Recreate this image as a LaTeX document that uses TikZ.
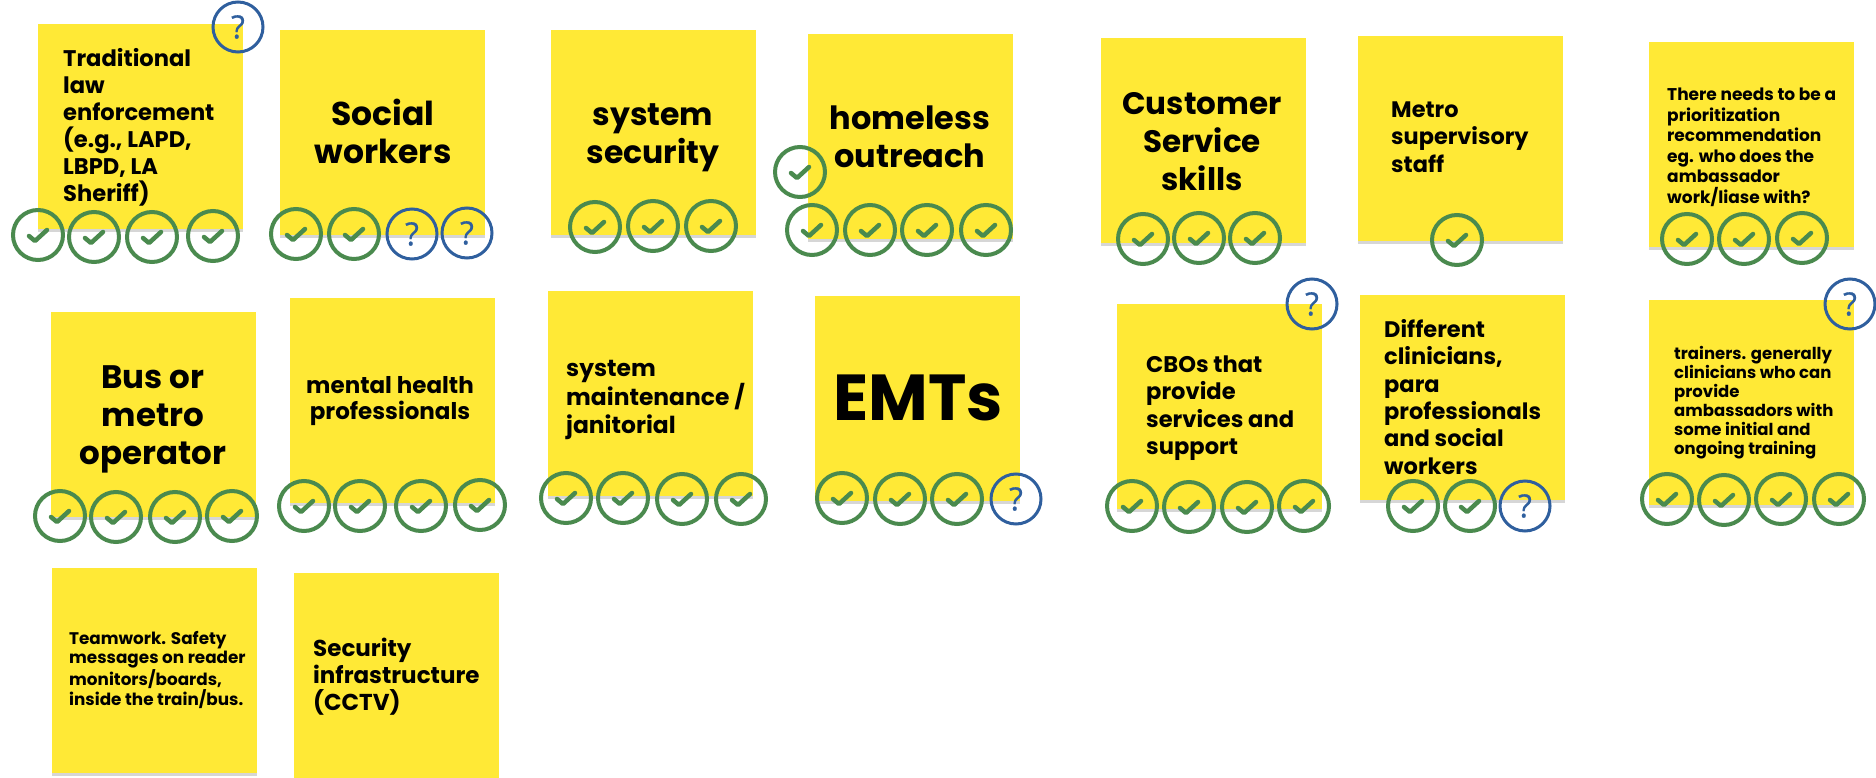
\documentclass[tikz,border=0pt]{standalone}
\usepackage{fontspec}
\setmainfont{Poppins}
\newfontfamily\qfont{Open Sans}[FakeBold=0.5]
\usetikzlibrary{shadows}
\definecolor{stickyy}{HTML}{FFE936}
\definecolor{okgreen}{HTML}{4A8A4E}
\definecolor{askblue}{HTML}{2F5F9E}
\tikzset{
  x=1pt,y=-1pt,
  sticky/.style={fill=stickyy,draw=none,minimum size=205pt,inner sep=0pt,anchor=north west,
    drop shadow={shadow xshift=0pt,shadow yshift=-3pt,opacity=.16,fill=black}},
  stxt/.style={inner sep=0pt,text=black},
  sz/.style 2 args={font=\bfseries\fontsize{#1}{#2}\selectfont},
  okmark/.style={circle,draw=okgreen,line width=4pt,minimum size=50pt,inner sep=0pt,
    path picture={\draw[okgreen,line width=4.5pt,line cap=round,line join=round]
      ([shift={(-9,1)}]path picture bounding box.center)
      -- ([shift={(-3,6)}]path picture bounding box.center)
      -- ([shift={(9,-5)}]path picture bounding box.center);}},
  askmark/.style={circle,draw=askblue,line width=3pt,minimum size=50pt,inner sep=0pt,text=askblue,
    font=\qfont\fontsize{32}{32}\selectfont}
}
\newcommand{\ok}[3]{\node[okmark] (#1) at (#2,#3) {};}
\newcommand{\ask}[3]{\node[askmark] (#1) at (#2,#3) {?};}
\begin{document}
\begin{tikzpicture}
\useasboundingbox (0,0) rectangle (1876,778);
% stickies
\node[sticky] (s1) at (38,24) {};
\node[sticky] (s2) at (280,30) {};
\node[sticky] (s3) at (551,30) {};
\node[sticky] (s4) at (808,34) {};
\node[sticky] (s5) at (1101,38) {};
\node[sticky] (s6) at (1358,36) {};
\node[sticky] (s7) at (1649,42) {};
\node[sticky] (s8) at (51,312) {};
\node[sticky] (s9) at (290,298) {};
\node[sticky] (s10) at (548,291) {};
\node[sticky] (s11) at (815,296) {};
\node[sticky] (s12) at (1117,304) {};
\node[sticky] (s13) at (1360,295) {};
\node[sticky] (s14) at (1649,300) {};
\node[sticky] (s15) at (52,568) {};
\node[sticky] (s16) at (294,573) {};
% texts
\node[stxt,sz={22.6}{27},anchor=west,align=left] (t1) at (63,127) {Traditional\\law\\enforcement\\(e.g., LAPD,\\LBPD, LA\\Sheriff)};
\node[stxt,sz={33}{38},align=center] (t2) at (383,131) {Social\\workers};
\node[stxt,sz={31.5}{38},align=center] (t3) at (653,138) {system\\security};
\node[stxt,sz={32}{38},align=center] (t4) at (910,136.5) {homeless\\outreach};
\node[stxt,sz={31}{38},align=center] (t5) at (1202,142) {Customer\\Service\\skills};
\node[stxt,sz={22.4}{27.5},anchor=west,align=left] (t6) at (1391,137) {Metro\\supervisory\\staff};
\node[stxt,sz={17}{20.5},anchor=west,align=left] (t7) at (1667,147.5) {There needs to be a\\prioritization\\recommendation\\eg. who does the\\ambassador\\work/liase with?};
\node[stxt,sz={32.5}{38},align=center] (t8) at (153,419) {Bus or\\metro\\operator};
\node[stxt,sz={23}{26},align=center] (t9) at (390,401) {mental health\\professionals};
\node[stxt,sz={23.4}{28},anchor=west,align=left] (t10) at (566,400) {system\\maintenance /\\janitorial};
\node[stxt,sz={65}{65}] (t11) at (918,398) {EMTs};
\node[stxt,sz={22.6}{27.5},anchor=west,align=left] (t12) at (1146,408) {CBOs that\\provide\\services and\\support};
\node[stxt,sz={22.5}{27.3},anchor=west,align=left] (t13) at (1384,397) {Different\\clinicians,\\para\\professionals\\and social\\workers};
\node[stxt,sz={16.5}{19},anchor=west,align=left] (t14) at (1674,402.5) {trainers. generally\\clinicians who can\\provide\\ambassadors with\\some initial and\\ongoing training};
\node[stxt,sz={16.8}{19},anchor=west,align=left] (t15) at (69,670) {Teamwork. Safety\\messages on reader\\monitors/boards,\\inside the train/bus.};
\node[stxt,sz={23}{27},anchor=west,align=left] (t16) at (313,677) {Security\\infrastructure\\(CCTV)};
% marks
\ok{a1}{38}{235}\ok{a2}{94}{237}\ok{a3}{152}{237}\ok{a4}{213}{236}\ask{a5}{238}{27}
\ok{b1}{296}{234}\ok{b2}{354}{234}\ask{b3}{412}{234}\ask{b4}{467}{233}
\ok{c1}{595}{227}\ok{c2}{653}{226}\ok{c3}{711}{226}
\ok{d0}{800}{172}\ok{d1}{812}{230}\ok{d2}{870}{230}\ok{d3}{927}{230}\ok{d4}{986}{230}
\ok{e1}{1143}{239}\ok{e2}{1199}{238}\ok{e3}{1255}{238}
\ok{f1}{1457}{240}
\ok{g1}{1687}{239}\ok{g2}{1744}{239}\ok{g3}{1802}{238}
\ok{h1}{60}{516}\ok{h2}{116}{517}\ok{h3}{175}{517}\ok{h4}{232}{516}
\ok{i1}{304}{506}\ok{i2}{360}{506}\ok{i3}{421}{506}\ok{i4}{480}{505}
\ok{j1}{566}{498}\ok{j2}{623}{498}\ok{j3}{682}{499}\ok{j4}{741}{499}
\ok{k1}{842}{498}\ok{k2}{900}{499}\ok{k3}{957}{499}\ask{k4}{1016}{499}
\ok{l1}{1132}{506}\ok{l2}{1189}{507}\ok{l3}{1247}{507}\ok{l4}{1304}{506}\ask{l5}{1312}{304}
\ok{m1}{1413}{506}\ok{m2}{1470}{506}\ask{m3}{1525}{506}
\ok{n1}{1667}{499}\ok{n2}{1724}{500}\ok{n3}{1781}{499}\ok{n4}{1839}{499}\ask{n5}{1850}{304}
\end{tikzpicture}
\end{document}
